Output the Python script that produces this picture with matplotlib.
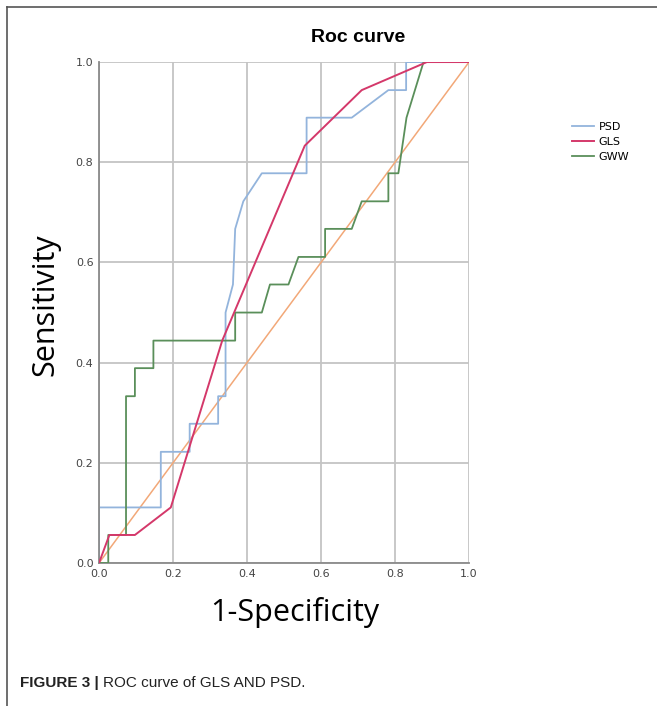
import matplotlib
matplotlib.use('Agg')
import matplotlib.pyplot as plt
from matplotlib.lines import Line2D

# ROC points
psd_fpr = [0.0, 0.0, 0.167, 0.167, 0.245, 0.245, 0.322, 0.322, 0.342, 0.342, 0.362,
           0.368, 0.39, 0.44, 0.561, 0.561, 0.683, 0.782, 0.83, 0.83, 1.0]
psd_tpr = [0.0, 0.111, 0.111, 0.222, 0.222, 0.278, 0.278, 0.333, 0.333, 0.5, 0.556,
           0.667, 0.722, 0.778, 0.778, 0.889, 0.889, 0.944, 0.944, 1.0, 1.0]

gls_fpr = [0.0, 0.028, 0.097, 0.194, 0.333, 0.556, 0.71, 0.886, 1.0]
gls_tpr = [0.0, 0.056, 0.056, 0.111, 0.444, 0.833, 0.944, 1.0, 1.0]

gww_fpr = [0.0, 0.025, 0.025, 0.073, 0.073, 0.097, 0.097, 0.147, 0.147, 0.368, 0.368,
           0.44, 0.462, 0.512, 0.539, 0.611, 0.611, 0.683, 0.71, 0.782, 0.782, 0.809,
           0.831, 0.877, 1.0]
gww_tpr = [0.0, 0.0, 0.056, 0.056, 0.333, 0.333, 0.389, 0.389, 0.444, 0.444, 0.5,
           0.5, 0.556, 0.556, 0.611, 0.611, 0.667, 0.667, 0.722, 0.722, 0.778, 0.778,
           0.889, 1.0, 1.0]

ticks = [0.0, 0.2, 0.4, 0.6, 0.8, 1.0]

fig = plt.figure(figsize=(6.57, 7.06), dpi=100)
ax = fig.add_axes([0.1507, 0.2025, 0.5632, 0.7096])

for t in ticks:
    ax.axhline(t, color='#c4c4c4', lw=1.3, zorder=0)
    ax.axvline(t, color='#c4c4c4', lw=1.3, zorder=0)

ax.plot([0, 1], [0, 1], color='#f2a878', lw=1.1, zorder=1)
ax.plot(psd_fpr, psd_tpr, color='#93b4dc', lw=1.3, label='PSD', zorder=2)
ax.plot(gww_fpr, gww_tpr, color='#5a8f5a', lw=1.3, label='GWW', zorder=3)
ax.plot(gls_fpr, gls_tpr, color='#d4386a', lw=1.4, label='GLS', zorder=4)

ax.set_xlim(0, 1)
ax.set_ylim(0, 1)
ax.set_xticks(ticks)
ax.set_yticks(ticks)
ax.set_xticklabels(['%.1f' % t for t in ticks])
ax.set_yticklabels(['%.1f' % t for t in ticks])
ax.tick_params(length=0, pad=4, labelsize=8, labelcolor='#444444')
for s in ['top', 'right']:
    ax.spines[s].set_visible(False)
for s in ['left', 'bottom']:
    ax.spines[s].set_color('#8a8a8a')
    ax.spines[s].set_linewidth(1.3)

# SPSS centres the title over plot + legend
fig.text(358 / 657, 1 - 37 / 706, 'Roc curve', fontsize=14, fontweight='bold',
         family='Liberation Sans', ha='center', va='center')
ax.set_xlabel('1-Specificity', fontsize=22, family='Open Sans')
ax.set_ylabel('Sensitivity', fontsize=22, family='Open Sans')
ax.xaxis.set_label_coords(0.53, -0.068)
ax.yaxis.set_label_coords(-0.105, 0.515)

handles, labels = ax.get_legend_handles_labels()
order = [labels.index(n) for n in ['PSD', 'GLS', 'GWW']]
fig.legend([handles[i] for i in order], [labels[i] for i in order],
           loc='upper left', bbox_to_anchor=(0.855, 0.842), frameon=False,
           fontsize=8, handlelength=2.0, handletextpad=0.4, labelspacing=0.45)

# page border (top and left edges)
fig.add_artist(Line2D([7 / 657, 1.0], [1 - 7 / 706, 1 - 7 / 706],
                      transform=fig.transFigure, color='#555555', lw=1.2))
fig.add_artist(Line2D([7 / 657, 7 / 657], [0.0, 1 - 7 / 706],
                      transform=fig.transFigure, color='#555555', lw=1.2))

cap_font = ['Liberation Sans Narrow', 'Liberation Sans', 'DejaVu Sans']
t1 = fig.text(20 / 657, 1 - 683 / 706, 'FIGURE 3 |', fontsize=11, fontweight='bold',
              family=cap_font, va='center', color='#222222')
fig.canvas.draw()
bb = t1.get_window_extent()
fig.text((bb.x1 + 4) / 657, 1 - 683 / 706, 'ROC curve of GLS AND PSD.', fontsize=11,
         family=cap_font, va='center', color='#222222')

fig.savefig('out.png', dpi=100)
